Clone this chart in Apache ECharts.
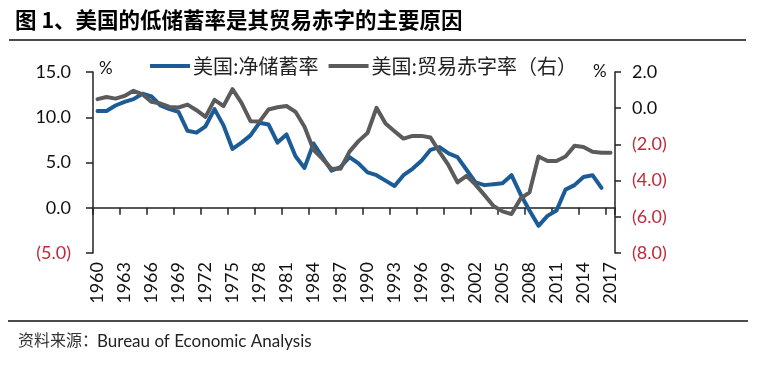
<!DOCTYPE html>
<html><head><meta charset="utf-8">
<script src="https://cdn.jsdelivr.net/npm/echarts@6/dist/echarts.min.js"></script>
<style>html,body{margin:0;padding:0;background:#fff}#c{width:758px;height:369px}</style>
</head><body><div id="c"></div>
<script>
const years = ['1960','1961','1962','1963','1964','1965','1966','1967','1968','1969',
'1970','1971','1972','1973','1974','1975','1976','1977','1978','1979',
'1980','1981','1982','1983','1984','1985','1986','1987','1988','1989',
'1990','1991','1992','1993','1994','1995','1996','1997','1998','1999',
'2000','2001','2002','2003','2004','2005','2006','2007','2008','2009',
'2010','2011','2012','2013','2014','2015','2016','2017'];

// 美国:净储蓄率 (left axis, %)
const savingRate = [10.7,10.7,11.3,11.7,12.0,12.6,12.3,11.3,10.9,10.6,
8.5,8.3,9.0,10.9,9.1,6.5,7.2,8.0,9.4,9.2,
7.2,8.1,5.7,4.4,7.1,5.6,4.1,4.5,5.6,4.9,
3.9,3.6,3.0,2.4,3.6,4.3,5.2,6.4,6.7,6.0,
5.6,4.2,2.8,2.5,2.6,2.7,3.6,1.5,-0.3,-2.0,
-0.9,-0.3,2.0,2.5,3.4,3.6,2.2,null];

// 美国:贸易赤字率（右） (right axis, %)
const tradeRate = [0.5,0.62,0.53,0.68,0.96,0.77,0.35,0.26,0.07,0.04,
0.2,-0.11,-0.48,0.46,0.12,1.05,0.3,-0.72,-0.74,-0.07,
0.05,0.12,-0.2,-1.03,-2.3,-2.8,-3.35,-3.35,-2.4,-1.82,
-1.37,0.02,-0.85,-1.27,-1.68,-1.53,-1.53,-1.62,-2.41,-3.15,
-4.1,-3.74,-4.22,-4.8,-5.4,-5.7,-5.85,-5.0,-4.65,-2.67,
-2.92,-2.92,-2.67,-2.08,-2.14,-2.41,-2.46,-2.46];

const leftTicks = [-5, 0, 5, 10, 15];
const rightTicks = [-8, -6, -4, -2, 0, 2];

const RED = '#BE2A3A';
const fmt = v => v < 0 ? '(' + Math.abs(v).toFixed(1) + ')' : v.toFixed(1);
const col = v => v < 0 ? RED : '#111';
const numFont = 'Lato, "Open Sans", sans-serif';
const cjk = '"Noto Sans CJK SC", sans-serif';

const chart = echarts.init(document.getElementById('c'), null, {renderer: 'canvas'});
chart.setOption({
  animation: false,
  backgroundColor: '#fff',
  grid: {left: 93, right: 143, top: 72, bottom: 116, containLabel: false},
  legend: {
    left: 145, top: 51, icon: 'rect', itemWidth: 40, itemHeight: 4, itemGap: 10,
    textStyle: {fontSize: 20, color: '#222', fontFamily: cjk, padding: [0,0,0,-2]},
    data: ['美国:净储蓄率', '美国:贸易赤字率（右）']
  },
  xAxis: [{
    type: 'category', data: years, boundaryGap: true,
    axisLine: {onZero: true, onZeroAxisIndex: 0, lineStyle: {color: '#222', width: 1.5}},
    axisTick: {show: true, interval: 2, length: 7, lineStyle: {color: '#222', width: 1.5}},
    axisLabel: {show: false}, splitLine: {show: false}
  }, {
    type: 'category', data: years, boundaryGap: true, position: 'bottom',
    axisLine: {show: false, onZero: false}, axisTick: {show: false},
    axisLabel: {show: true, interval: 2, rotate: 90, margin: 9, fontSize: 18, color: '#111', fontFamily: numFont},
    splitLine: {show: false}
  }],
  yAxis: [{
    type: 'value', position: 'left',
    min: leftTicks[0], max: leftTicks[leftTicks.length-1], interval: leftTicks[1]-leftTicks[0],
    axisLine: {show: true, lineStyle: {color: '#222', width: 1.5}},
    axisTick: {show: true, length: 7, lineStyle: {color: '#222', width: 1.5}},
    axisLabel: {margin: 22, fontSize: 18, fontFamily: numFont, formatter: fmt, color: col},
    splitLine: {show: false}
  }, {
    type: 'value', position: 'right',
    min: rightTicks[0], max: rightTicks[rightTicks.length-1], interval: rightTicks[1]-rightTicks[0],
    axisLine: {show: true, lineStyle: {color: '#222', width: 1.5}},
    axisTick: {show: true, length: 6, lineStyle: {color: '#222', width: 1.5}},
    axisLabel: {margin: 17, fontSize: 18, fontFamily: numFont, formatter: fmt, color: col},
    splitLine: {show: false}
  }],
  series: [{
    name: '美国:净储蓄率', type: 'line', xAxisIndex: 0, yAxisIndex: 0, data: savingRate,
    showSymbol: false, symbol: 'none', lineStyle: {color: '#1B5C97', width: 4, cap: 'round', join: 'round'},
    itemStyle: {color: '#1B5C97'}
  }, {
    name: '美国:贸易赤字率（右）', type: 'line', xAxisIndex: 0, yAxisIndex: 1, data: tradeRate,
    showSymbol: false, symbol: 'none', lineStyle: {color: '#5B5B5B', width: 4, cap: 'round', join: 'round'},
    itemStyle: {color: '#5B5B5B'}
  }],
  graphic: [
    {type: 'text', left: 15, top: 9, style: {text: '图 1、美国的低储蓄率是其贸易赤字的主要原因', fontSize: 21.5, fontWeight: 'bold', fill: '#000', fontFamily: cjk}},
    {type: 'line', shape: {x1: 9, y1: 40, x2: 746, y2: 40}, style: {stroke: '#111', lineWidth: 1.5}},
    {type: 'text', left: 99, top: 60, style: {text: '%', fontSize: 17, fill: '#111', fontFamily: numFont}},
    {type: 'text', left: 593, top: 63, style: {text: '%', fontSize: 17, fill: '#111', fontFamily: numFont}},
    {type: 'line', shape: {x1: 8, y1: 321, x2: 748, y2: 321}, style: {stroke: '#111', lineWidth: 1.5}},
    {type: 'text', left: 18, top: 332, style: {text: '资料来源：', fontSize: 16, fill: '#333', fontFamily: cjk}},
    {type: 'text', left: 97, top: 333, style: {text: 'Bureau of Economic Analysis', fontSize: 17, fill: '#222', fontFamily: numFont}}
  ]
});
</script>
</body></html>
